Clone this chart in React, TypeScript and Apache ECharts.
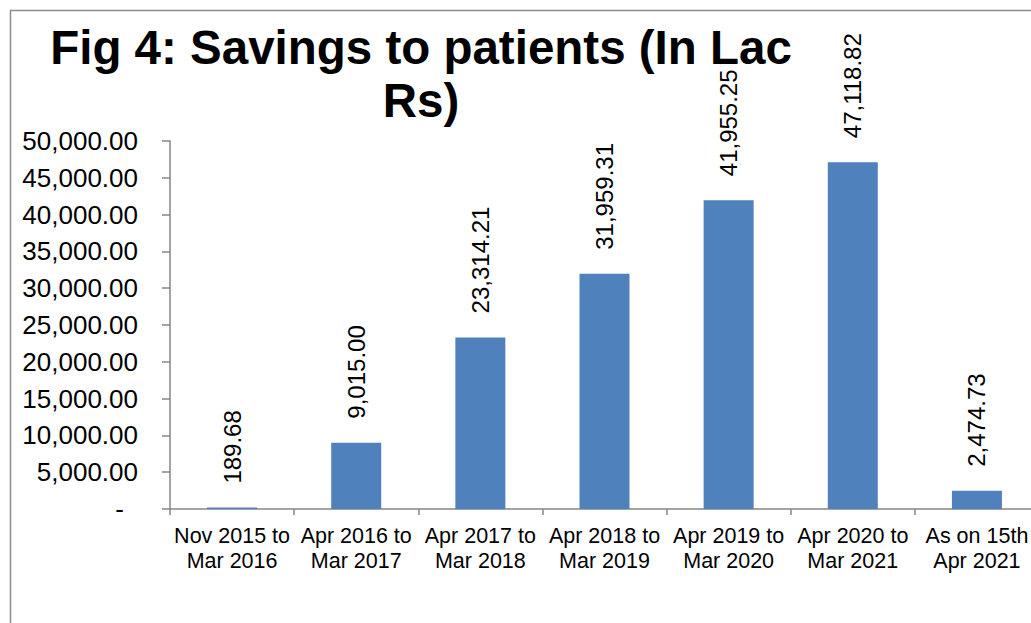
import React, { useEffect, useRef } from "react";
import * as echarts from "echarts";

const categories = [
  "Nov 2015 to\nMar 2016",
  "Apr 2016 to\nMar 2017",
  "Apr 2017 to\nMar 2018",
  "Apr 2018 to\nMar 2019",
  "Apr 2019 to\nMar 2020",
  "Apr 2020 to\nMar 2021",
  "As on 15th\nApr 2021",
];
const savings = [189.68, 9015.0, 23314.21, 31959.31, 41955.25, 47118.82, 2474.73];
const titleText = "Fig 4: Savings to patients (In Lac\nRs)";

const fmt = (v: number) =>
  v.toLocaleString("en-US", { minimumFractionDigits: 2, maximumFractionDigits: 2 });

const FONT = "'Liberation Sans', Arial, sans-serif";

export default function App() {
  const ref = useRef<HTMLDivElement>(null);
  useEffect(() => {
    if (!ref.current) return;
    const chart = echarts.init(ref.current, undefined, { renderer: "svg" });
    chart.setOption({
      animation: false,
      backgroundColor: "#ffffff",
      textStyle: { fontFamily: FONT },
      title: {
        text: titleText,
        left: 416,
        top: 16,
        textAlign: "center",
        textStyle: {
          fontFamily: FONT,
          fontSize: 47.5,
          fontWeight: "bold",
          color: "#000000",
          lineHeight: 53,
        },
      },
      graphic: [
        {
          type: "rect",
          shape: { x: 10.5, y: 10.5, width: 1200, height: 800 },
          style: { fill: "none", stroke: "#8c8c8c", lineWidth: 1.5 },
          silent: true,
          z: -1,
        },
      ],
      grid: {
        left: 170,
        top: 141,
        width: 869,
        height: 368,
        containLabel: false,
        outerBoundsMode: "none",
      },
      xAxis: {
        type: "category",
        data: categories,
        axisLine: { show: true, lineStyle: { color: "#868686", width: 1.5 } },
        axisTick: { show: true, length: 6, lineStyle: { color: "#868686", width: 1.5 } },
        axisLabel: {
          color: "#000000",
          fontSize: 21.5,
          lineHeight: 25,
          margin: 14,
          interval: 0,
          fontFamily: FONT,
        },
      },
      yAxis: {
        type: "value",
        min: 0,
        max: 50000,
        interval: 5000,
        splitLine: { show: false },
        axisLine: { show: true, lineStyle: { color: "#868686", width: 1.5 } },
        axisTick: { show: true, length: 8, lineStyle: { color: "#868686", width: 1.5 } },
        axisLabel: {
          color: "#000000",
          fontSize: 26,
          margin: 32,
          fontFamily: FONT,
          formatter: (v: number) => (v === 0 ? "{z|-}" : fmt(v)),
          rich: {
            z: { fontSize: 26, color: "#000000", padding: [0, 14, 0, 0], fontFamily: FONT },
          },
        },
      },
      series: [
        {
          type: "bar",
          data: savings,
          barWidth: 50,
          itemStyle: { color: "#4F81BD" },
          label: {
            show: true,
            position: "top",
            rotate: 90,
            distance: 24,
            align: "left",
            verticalAlign: "middle",
            fontSize: 24,
            color: "#000000",
            fontFamily: FONT,
            formatter: (p: any) => fmt(p.value),
          },
        },
      ],
    });
    return () => chart.dispose();
  }, []);
  return (
    <div
      ref={ref}
      style={{ position: "fixed", left: 0, top: 0, width: 1031, height: 623 }}
    />
  );
}
